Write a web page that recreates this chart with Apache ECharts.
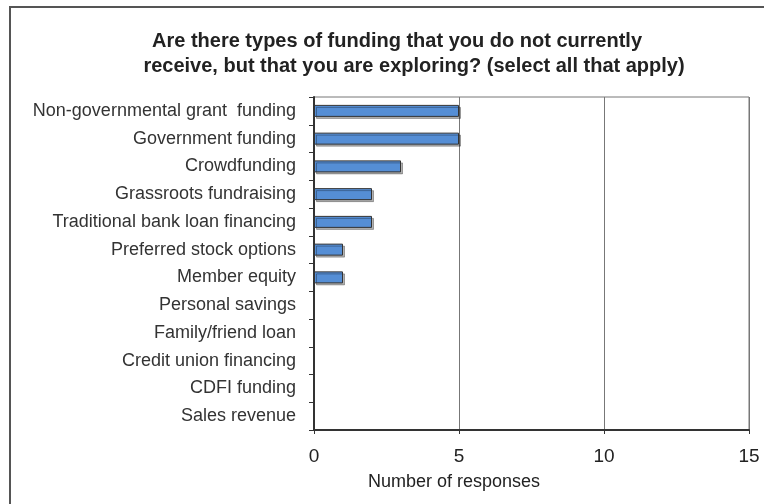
<!DOCTYPE html>
<html>
<head>
<meta charset="utf-8">
<script src="https://cdn.jsdelivr.net/npm/echarts@6/dist/echarts.min.js"></script>
<style>
  html, body { margin: 0; padding: 0; background: #fff; }
  #chart { width: 764px; height: 504px; }
</style>
</head>
<body>
<div id="chart"></div>
<script>
// categories, top to bottom
var categories = [
    'Non-governmental grant  funding',
    'Government funding',
    'Crowdfunding',
    'Grassroots fundraising',
    'Traditional bank loan financing',
    'Preferred stock options',
    'Member equity',
    'Personal savings',
    'Family/friend loan',
    'Credit union financing',
    'CDFI funding',
    'Sales revenue'
];
// number of responses
var responses = [5, 5, 3, 2, 2, 1, 1, 0, 0, 0, 0, 0];

var titleLines = [
    'Are there types of funding that you do not currently',
    'receive, but that you are exploring? (select all that apply)'
];
var axisTitle = 'Number of responses';

var myChart = echarts.init(document.getElementById('chart'));

var titleStyle = {
    fontSize: 20,
    fontWeight: 'bold',
    color: '#222',
    fontFamily: 'Liberation Sans, Arial, sans-serif'
};

// zero bars: no border / shadow so nothing is drawn
var barData = responses.map(function (v) {
    if (v > 0) return v;
    return { value: v, itemStyle: { borderWidth: 0, shadowColor: 'transparent' } };
});

var option = {
    backgroundColor: '#fff',
    animation: false,
    textStyle: { fontFamily: 'Liberation Sans, Arial, sans-serif' },
    title: [
        { text: titleLines[0], left: 397, top: 31, textAlign: 'center', padding: 0, textStyle: titleStyle },
        { text: titleLines[1], left: 414, top: 56, textAlign: 'center', padding: 0, textStyle: titleStyle }
    ],
    grid: {
        left: 314,
        right: 15,
        top: 97,
        bottom: 74,
        show: true,
        borderColor: '#777',
        borderWidth: 1
    },
    xAxis: {
        type: 'value',
        min: 0,
        max: 15,
        interval: 5,
        axisLine: { show: true, lineStyle: { color: '#333', width: 2 } },
        axisTick: { show: true, length: 4, lineStyle: { color: '#333' } },
        axisLabel: { color: '#222', fontSize: 19, margin: 17 },
        splitLine: { show: true, lineStyle: { color: '#777', width: 1 } }
    },
    yAxis: {
        type: 'category',
        data: categories,
        inverse: true,
        axisLine: { show: true, lineStyle: { color: '#333', width: 2 } },
        axisTick: { show: true, length: 5, alignWithLabel: false, lineStyle: { color: '#333' } },
        axisLabel: { color: '#333', fontSize: 18, margin: 18 },
        splitLine: { show: false }
    },
    series: [{
        type: 'bar',
        data: barData,
        barWidth: 12,
        itemStyle: {
            color: '#558ED5',
            borderColor: '#333',
            borderWidth: 1,
            shadowColor: 'rgba(0,0,0,0.3)',
            shadowOffsetX: 2,
            shadowOffsetY: 2,
            shadowBlur: 0
        }
    }],
    graphic: [
        {
            type: 'rect',
            shape: { x: 10, y: 7, width: 800, height: 600 },
            style: { fill: 'none', stroke: '#555', lineWidth: 2 },
            silent: true
        },
        {
            type: 'text',
            left: 368,
            top: 473,
            style: {
                text: axisTitle,
                fill: '#222',
                font: '18px Liberation Sans, Arial, sans-serif'
            }
        }
    ]
};
myChart.setOption(option);
</script>
</body>
</html>
